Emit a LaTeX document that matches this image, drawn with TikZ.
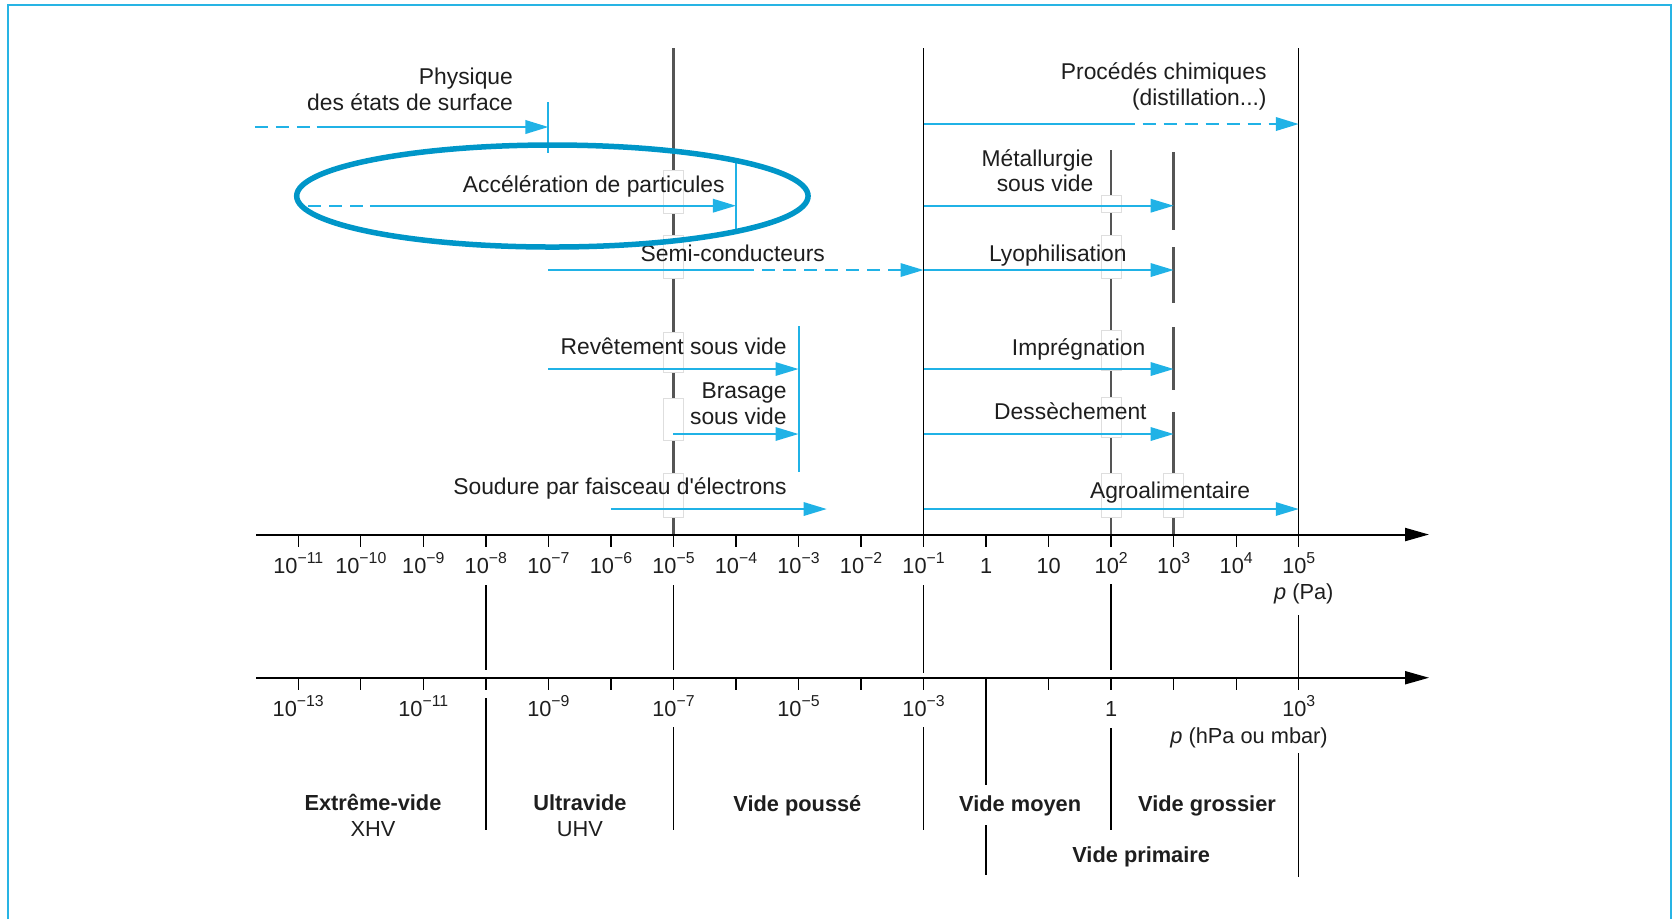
\documentclass[tikz,border=0pt]{standalone}
\usepackage{fontspec}
\setmainfont{Liberation Sans}
\usetikzlibrary{arrows.meta}

\definecolor{flux}{RGB}{32,178,230}
\definecolor{halo}{RGB}{0,150,200}
\definecolor{cadre}{RGB}{40,180,228}
\definecolor{ink}{RGB}{30,30,30}
\definecolor{axe}{RGB}{85,85,85}

\newcommand\ten[1]{10\raisebox{.8ex}{\fontsize{4.5}{5}\selectfont#1}}

\begin{document}
\begin{tikzpicture}[x=6.253mm,y=-0.1mm,
  font=\fontsize{6.5}{7.3}\selectfont,text=ink,
  use/.style={draw=flux,line width=0.16mm},
  usearrow/.style={use,-{Triangle[length=2.3mm,width=1.35mm]}},
  part/.style={dash pattern=on 1.3mm off 0.8mm},
  bar/.style={draw=flux,line width=0.2mm},
  limit/.style={draw=axe,line width=0.26mm},
  sep/.style={draw=black,line width=0.14mm},
  axis/.style={draw=black,line width=0.2mm,-{Triangle[length=2.4mm,width=1.3mm]}},
  gap/.style={draw=black!13,fill=white,line width=0.1mm},
  lbl/.style={anchor=base east,inner sep=0pt,align=right},
  tick/.style={anchor=base,inner sep=0pt,font=\fontsize{6.2}{7}\selectfont},
  zone/.style={anchor=base,inner sep=0pt,align=center,font=\fontsize{6.2}{7.4}\selectfont}]

  \useasboundingbox (-15.770,0) rectangle (11.033,919);
  \draw[cadre,line width=0.22mm] (-15.642,919) -- (-15.642,5) -- (10.953,5) -- (10.953,919);

  \draw[sep] (-1,48) -- (-1,534.5);
  \draw[sep] (5,48) -- (5,534.5);
  \draw[limit] (-5,48) -- (-5,534.5);
  \draw[limit] (2,150) -- (2,534.5);
  \foreach \a/\b in {152/230,247/303,327/390,412/534.5}
    \draw[limit] (3,\a) -- (3,\b);

  \foreach \k/\a/\b in {-5/170/213,-5/235/278,-5/332/372,-5/398/440,-5/473/517,
                        2/195/212,2/235/278,2/330/370,2/397/437,2/473/517,3/473/517}
    \draw[gap] (\k-0.16,\a) rectangle (\k+0.16,\b);

  \foreach \k/\a/\b in {-8/585/670,-8/698/830,-5/585/670,-5/727/830,-1/585/673,-1/727/830,
                        0/680/785,0/825/875,2/584/670,2/728/830,5/615/678,5/753/877}
    \draw[sep] (\k,\a) -- (\k,\b);

  \coordinate (pa0) at (-11.67,534.5);
  \coordinate (pa1) at (7.083,534.5);
  \coordinate (hpa0) at (-11.67,677.7);
  \coordinate (hpa1) at (7.083,677.7);
  \draw[axis] (pa0) -- (pa1);
  \draw[axis] (hpa0) -- (hpa1);
  \foreach \k in {-11,...,5}{
    \draw[sep] (\k,534.5) -- (\k,546.5);
    \draw[sep] (\k,677.7) -- (\k,689.7);
  }

  \foreach \e in {1,...,11}
    \node[tick] (um\e) at (-\e,573) {\ten{−\e}};
  \node[tick] (u0) at (0,573) {1};
  \node[tick] (u1) at (1,573) {10};
  \foreach \e in {2,...,5}
    \node[tick] (u\e) at (\e,573) {\ten{\e}};
  \foreach \k/\e in {-11/13,-9/11,-7/9,-5/7,-3/5,-1/3}
    \node[tick] (lm\e) at (\k,716) {\ten{−\e}};
  \node[tick] (l0) at (2,716) {1};
  \node[tick] (l3) at (5,716) {\ten{3}};
  \node[tick] (pa) at (5.08,599) {\textit{p} (Pa)};
  \node[tick] (hpa) at (4.205,743) {\textit{p} (hPa ou mbar)};

  \coordinate (phys-a) at (-11.692,127);
  \coordinate (phys-b) at (-10.708,127);
  \coordinate (phys-c) at (-7,127);
  \draw[use,part,line width=0.22mm] (phys-a) -- (phys-b);
  \draw[usearrow,line width=0.22mm] (phys-b) -- (phys-c);
  \coordinate (acc-a) at (-10.844,205.7);
  \coordinate (acc-b) at (-9.853,205.7);
  \coordinate (acc-c) at (-4,205.7);
  \draw[use,part] (acc-a) -- (acc-b);
  \draw[usearrow] (acc-b) -- (acc-c);
  \coordinate (semi-a) at (-7,270);
  \coordinate (semi-b) at (-3.913,270);
  \coordinate (semi-c) at (-1,270);
  \draw[use] (semi-a) -- (semi-b);
  \draw[usearrow,part] (semi-b) -- (semi-c);
  \coordinate (chim-a) at (-1,124);
  \coordinate (chim-b) at (2.169,124);
  \coordinate (chim-c) at (5,124);
  \draw[use,line width=0.22mm] (chim-a) -- (chim-b);
  \draw[usearrow,part,line width=0.22mm] (chim-b) -- (chim-c);
  \foreach \n/\a/\b/\y in {rev/-7/-3/369,bra/-5/-3/434,sou/-6/-2.549/509,
                           met/-1/3/205.7,lyo/-1/3/270,imp/-1/3/369,des/-1/3/434,agr/-1/5/509}{
    \coordinate (\n-a) at (\a,\y);
    \coordinate (\n-b) at (\b,\y);
    \draw[usearrow] (\n-a) -- (\n-b);
  }
  \draw[bar] (-7,102) -- (-7,153);
  \draw[bar] (-4,163) -- (-4,230);
  \draw[bar] (-3,326) -- (-3,472);

  \node[lbl] (phys) at (-7.556,110) {Physique\\des états de surface};
  \node[lbl] (acc) at (-4.171,192.7) {Accélération de particules};
  \node[lbl] (semi) at (-2.568,261.7) {Semi-conducteurs};
  \node[lbl] (rev) at (-3.179,354.3) {Revêtement sous vide};
  \node[lbl] (bra) at (-3.179,424) {Brasage\\sous vide};
  \node[lbl] (sou) at (-3.179,494) {Soudure par faisceau d\textquotesingle électrons};
  \node[lbl] (chim) at (4.497,105) {Procédés chimiques\\(distillation...)};
  \node[lbl] (met) at (1.726,191.7) {Métallurgie\\sous vide};
  \node[lbl] (lyo) at (2.258,261.7) {Lyophilisation};
  \node[lbl] (imp) at (2.557,355) {Imprégnation};
  \node[lbl] (des) at (2.578,419.3) {Dessèchement};
  \node[lbl] (agr) at (4.232,498.3) {Agroalimentaire};

  \node[zone] (xhv) at (-9.805,836.7) {\textbf{Extrême-vide}\\XHV};
  \node[zone] (uhv) at (-6.495,836.7) {\textbf{Ultravide}\\UHV};
  \node[zone] (pousse) at (-3.018,811.7) {\textbf{Vide poussé}};
  \node[zone] (moyen) at (0.545,811) {\textbf{Vide moyen}};
  \node[zone] (grossier) at (3.533,811) {\textbf{Vide grossier}};
  \node[zone] (primaire) at (2.480,862.7) {\textbf{Vide primaire}};

  \draw[halo,line width=0.55mm] (-6.936,196) ellipse [x radius=25.57mm,y radius=5.1mm];
\end{tikzpicture}
\end{document}
